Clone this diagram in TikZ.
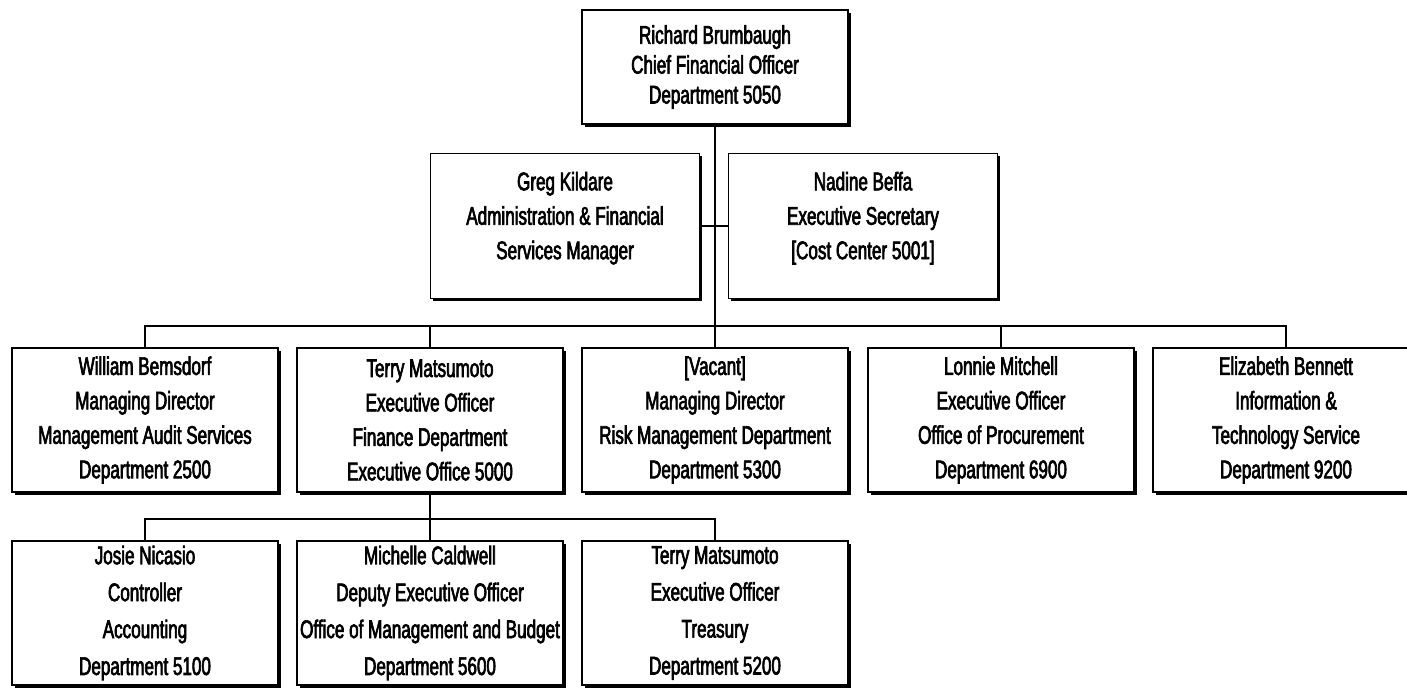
\documentclass[tikz,border=0pt]{standalone}
\usepackage{fontspec}
\setmainfont{Liberation Sans}[FakeStretch=0.67,FakeBold=2.5]
\usetikzlibrary{shadows}

\begin{document}
\begin{tikzpicture}[x=0.2mm,y=-0.2mm,
  person/.style={draw,line width=0.6pt,fill=white,minimum width=53.2mm,minimum height=28.8mm,
    inner sep=0pt,align=center,font=\fontsize{14.5}{19.6}\selectfont,
    general shadow={fill=black,shadow xshift=1.6pt,shadow yshift=-1.6pt}},
  link/.style={line width=0.7pt}]
  \clip (0,0) rectangle (1407,690);
  % top
  \node[person,minimum height=22.8mm,font=\fontsize{14.5}{17}\selectfont] (brumbaugh) at (715,67)
    {Richard Brumbaugh\\Chief Financial Officer\\Department 5050};
  % staff
  \node[person,minimum width=53.8mm,minimum height=29mm,text depth=4.2mm] (kildare) at (565,226)
    {Greg Kildare\\Administration \& Financial\\Services Manager};
  \node[person,minimum width=53.8mm,minimum height=29mm,text depth=4.2mm] (beffa) at (863,226)
    {Nadine Beffa\\Executive Secretary\\{[Cost Center 5001]}};
  % directors
  \node[person] (bemsdorf) at (145,420)
    {William Bemsdorf\\Managing Director\\Management Audit Services\\Department 2500};
  \node[person] (matsumoto) at (430,420)
    {Terry Matsumoto\\Executive Officer\\Finance Department\\Executive Office 5000};
  \node[person] (vacant) at (715,420)
    {{[Vacant]}\\Managing Director\\Risk Management Department\\Department 5300};
  \node[person] (mitchell) at (1001,420)
    {Lonnie Mitchell\\Executive Officer\\Office of Procurement\\Department 6900};
  \node[person] (bennett) at (1286,420)
    {Elizabeth Bennett\\Information \&\\Technology Service\\Department 9200};
  % finance
  \node[person,font=\fontsize{14.5}{21}\selectfont] (nicasio) at (145,613)
    {Josie Nicasio\\Controller\\Accounting\\Department 5100};
  \node[person,font=\fontsize{14.5}{21}\selectfont] (caldwell) at (430,613)
    {Michelle Caldwell\\Deputy Executive Officer\\Office of Management and Budget\\Department 5600};
  \node[person,font=\fontsize{14.5}{21}\selectfont] (treasury) at (715,613)
    {Terry Matsumoto\\Executive Officer\\Treasury\\Department 5200};

  \coordinate (bus) at (715,326);
  \coordinate (subbus) at (430,519);
  \draw[link] (brumbaugh.south) -- (vacant.north);
  \draw[link] (kildare.east) -- (beffa.west);
  \draw[link] (bemsdorf.north) |- (bus) -| (bennett.north);
  \draw[link] (matsumoto.north) -- (matsumoto.north |- bus);
  \draw[link] (mitchell.north) -- (mitchell.north |- bus);
  \draw[link] (matsumoto.south) -- (caldwell.north);
  \draw[link] (nicasio.north) |- (subbus) -| (treasury.north);
\end{tikzpicture}
\end{document}
